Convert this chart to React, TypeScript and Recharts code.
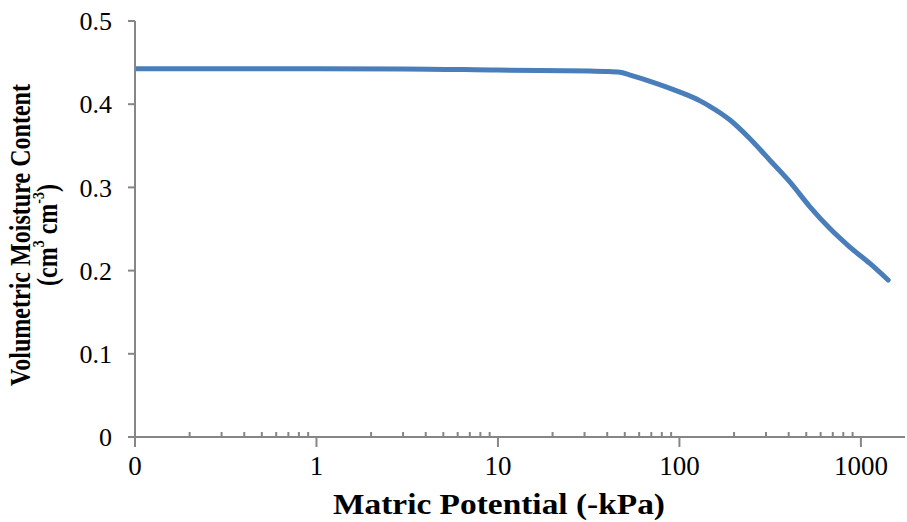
import React from "react"
import { LineChart, Line, XAxis, YAxis } from "recharts"

// matric potential (-kPa) and volumetric moisture content
const potential = [0.1, 1, 3, 10, 32, 40, 47, 53, 75, 100, 130, 147, 190, 244, 315, 406, 524, 675, 869, 1121, 1414]
const moisture = [0.4425, 0.4425, 0.4424, 0.441, 0.4398, 0.4394, 0.4384, 0.4352, 0.4248, 0.4148, 0.404, 0.3975, 0.381, 0.3588, 0.3327, 0.3066, 0.2766, 0.2505, 0.2283, 0.2086, 0.1886]

const majorTicks = [0.1, 1, 10, 100, 1000]
const minorTicks = [
  0.2, 0.3, 0.4, 0.5, 0.6, 0.7, 0.8, 0.9,
  2, 3, 4, 5, 6, 7, 8, 9,
  20, 30, 40, 50, 60, 70, 80, 90,
  200, 300, 400, 500, 600, 700, 800, 900,
]
const yTicks = [0, 0.1, 0.2, 0.3, 0.4, 0.5]

const data = potential.map((p, i) => ({ p, theta: moisture[i] }))

const serif = '"Liberation Serif", "Times New Roman", serif'
const axisColor = "#868686"

function XTick(props: any) {
  const { x, y, payload } = props
  const v = payload.value
  const major = majorTicks.includes(v)
  if (!major) {
    return <line x1={x} x2={x} y1={y} y2={y - 5} stroke={axisColor} strokeWidth={2} />
  }
  return (
    <g>
      <line x1={x} x2={x} y1={y} y2={y + 10} stroke={axisColor} strokeWidth={2} />
      <text x={x} y={y + 38} textAnchor="middle" fontFamily={serif} fontSize={27} fill="#000">
        {v < 1 ? "0" : v}
      </text>
    </g>
  )
}

function XTitle(props: any) {
  const { viewBox } = props
  const cx = viewBox.x + viewBox.width / 2 - 21
  return (
    <text x={cx} y={514} textAnchor="middle" fontFamily={serif} fontWeight="bold" fontSize={29}
      textLength={332} lengthAdjust="spacingAndGlyphs" fill="#000">
      Matric Potential (-kPa)
    </text>
  )
}

function YTitle(props: any) {
  const { viewBox } = props
  const cy = viewBox.y + viewBox.height / 2 + 6
  return (
    <g fontFamily={serif} fontWeight="bold" fill="#000">
      <g transform={`translate(20 ${cy}) scale(1.2 1) rotate(-90)`}>
        <text x={0} y={0} textAnchor="middle" dominantBaseline="central" fontSize={24}
          textLength={302} lengthAdjust="spacingAndGlyphs">
          Volumetric Moisture Content
        </text>
      </g>
      <g transform={`translate(47 ${cy}) scale(1.2 1) rotate(-90)`}>
        <text x={0} y={0} textAnchor="middle" dominantBaseline="central" fontSize={24}>
          (cm<tspan fontSize={14} dy={-8}>3</tspan>
          <tspan dy={8}> cm</tspan>
          <tspan fontSize={14} dy={-8}>-3</tspan>
          <tspan dy={8}>)</tspan>
        </text>
      </g>
    </g>
  )
}

export default function App() {
  return (
    <div style={{ position: "absolute", left: 0, top: 0, background: "#fff" }}>
      <LineChart width={907} height={522} data={data} margin={{ top: 21, right: 2, bottom: 0, left: 0 }}>
        <XAxis
          dataKey="p"
          type="number"
          scale="log"
          domain={[0.1, 1750]}
          allowDataOverflow
          ticks={[...majorTicks, ...minorTicks]}
          interval={0}
          tickSize={0}
          tickMargin={0}
          tickLine={false}
          tick={<XTick />}
          height={85}
          axisLine={{ stroke: axisColor, strokeWidth: 2 }}
          label={<XTitle />}
        />
        <YAxis
          type="number"
          domain={[0, 0.5]}
          ticks={yTicks}
          width={135}
          tickSize={7}
          tickMargin={16}
          axisLine={{ stroke: axisColor, strokeWidth: 2 }}
          tickLine={{ stroke: axisColor, strokeWidth: 2 }}
          tick={{ fontFamily: serif, fontSize: 26, fill: "#000" }}
          label={<YTitle />}
        />
        <Line
          dataKey="theta"
          type="monotone"
          stroke="#4a7ebb"
          strokeWidth={5}
          dot={false}
          isAnimationActive={false}
          strokeLinecap="round"
        />
      </LineChart>
    </div>
  )
}
